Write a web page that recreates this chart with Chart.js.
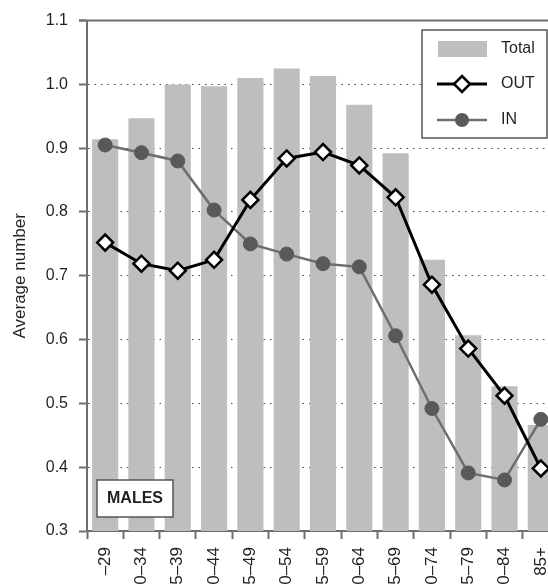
<!DOCTYPE html>
<html>
<head>
<meta charset="utf-8">
<script src="https://cdn.jsdelivr.net/npm/chart.js@4"></script>
<style>
  html, body { margin: 0; padding: 0; background: #fff; overflow: hidden; }
  #wrap { width: 548px; height: 585px; overflow: hidden; }
  canvas { display: block; }
</style>
</head>
<body>
<div id="wrap"><canvas id="plot" width="575" height="585"></canvas></div>
<script>
const ageGroups = ['–29', '30–34', '35–39', '40–44', '45–49', '50–54', '55–59', '60–64', '65–69', '70–74', '75–79', '80–84', '85+'];
const totalValues = [0.914, 0.947, 1.0, 0.997, 1.01, 1.025, 1.013, 0.968, 0.892, 0.725, 0.607, 0.527, 0.466];
const outValues = [0.752, 0.719, 0.708, 0.725, 0.819, 0.884, 0.894, 0.873, 0.823, 0.686, 0.586, 0.512, 0.398];
const inValues = [0.905, 0.893, 0.880, 0.803, 0.750, 0.734, 0.719, 0.714, 0.606, 0.492, 0.391, 0.380, 0.475];

const FONT = "'Liberation Sans', Arial, sans-serif";
const axisGray = '#6d6e71';
const barGray = '#bcbec0';
const inGray = '#6d6e71';
const inDot = '#58595b';
const textColor = '#231f20';

function drawDiamond(ctx, x, y, r) {
  ctx.beginPath();
  ctx.moveTo(x, y - r);
  ctx.lineTo(x + r, y);
  ctx.lineTo(x, y + r);
  ctx.lineTo(x - r, y);
  ctx.closePath();
  ctx.fillStyle = '#fff';
  ctx.fill();
  ctx.lineWidth = 2.5;
  ctx.strokeStyle = '#000';
  ctx.stroke();
}

// solid top frame line at 1.1
const topLine = {
  id: 'topLine',
  beforeDatasetsDraw(chart) {
    const ctx = chart.ctx;
    const y = chart.scales.y.getPixelForValue(1.1);
    ctx.save();
    ctx.strokeStyle = axisGray;
    ctx.lineWidth = 2;
    ctx.beginPath();
    ctx.moveTo(chart.chartArea.left - 8, y);
    ctx.lineTo(chart.width, y);
    ctx.stroke();
    ctx.restore();
  }
};

// boxed legend + MALES label
const boxes = {
  id: 'boxes',
  afterDraw(chart) {
    const ctx = chart.ctx;
    ctx.save();
    // legend box
    ctx.fillStyle = '#fff';
    ctx.fillRect(422, 30, 125, 108);
    ctx.strokeStyle = '#555';
    ctx.lineWidth = 1.5;
    ctx.strokeRect(422, 30, 125, 108);

    ctx.fillStyle = barGray;
    ctx.fillRect(438, 41, 49, 16);

    ctx.strokeStyle = '#000';
    ctx.lineWidth = 3;
    ctx.beginPath();
    ctx.moveTo(437, 84);
    ctx.lineTo(487, 84);
    ctx.stroke();
    drawDiamond(ctx, 462, 84, 8);

    ctx.strokeStyle = inGray;
    ctx.lineWidth = 2.5;
    ctx.beginPath();
    ctx.moveTo(437, 120);
    ctx.lineTo(487, 120);
    ctx.stroke();
    ctx.fillStyle = inDot;
    ctx.beginPath();
    ctx.arc(462, 120, 7, 0, Math.PI * 2);
    ctx.fill();

    ctx.fillStyle = textColor;
    ctx.font = '16px ' + FONT;
    ctx.textAlign = 'left';
    ctx.textBaseline = 'middle';
    ctx.fillText('Total', 501, 49);
    ctx.fillText('OUT', 501, 84);
    ctx.fillText('IN', 501, 120);

    // MALES box
    ctx.fillStyle = '#fff';
    ctx.fillRect(97, 480, 76, 37);
    ctx.strokeStyle = '#555';
    ctx.lineWidth = 1.5;
    ctx.strokeRect(97, 480, 76, 37);
    ctx.fillStyle = textColor;
    ctx.font = 'bold 16px ' + FONT;
    ctx.textAlign = 'center';
    ctx.fillText('MALES', 135, 499);
    ctx.restore();
  }
};

const data = {
  labels: ageGroups,
  datasets: [
    {
      type: 'line',
      label: 'OUT',
      data: outValues,
      borderColor: '#000',
      borderWidth: 3,
      pointStyle: 'rectRot',
      pointRadius: 8,
      pointBackgroundColor: '#fff',
      pointBorderColor: '#000',
      pointBorderWidth: 2.5,
      tension: 0,
      order: 1
    },
    {
      type: 'line',
      label: 'IN',
      data: inValues,
      borderColor: inGray,
      borderWidth: 2.5,
      pointStyle: 'circle',
      pointRadius: 7,
      pointBackgroundColor: inDot,
      pointBorderColor: inDot,
      pointBorderWidth: 1,
      tension: 0,
      order: 2
    },
    {
      type: 'bar',
      label: 'Total',
      data: totalValues,
      backgroundColor: barGray,
      categoryPercentage: 1,
      barPercentage: 0.72,
      order: 3
    }
  ]
};

const config = {
  type: 'bar',
  data: data,
  options: {
    responsive: false,
    animation: false,
    layout: { padding: { top: 20, right: 16, left: 0, bottom: 0 } },
    plugins: {
      legend: { display: false },
      tooltip: { enabled: false }
    },
    scales: {
      x: {
        afterFit(scale) { scale.height = 54; },
        grid: {
          drawOnChartArea: false,
          drawTicks: true,
          tickLength: 8,
          tickColor: axisGray,
          tickWidth: 2
        },
        border: { color: axisGray, width: 2 },
        ticks: {
          autoSkip: false,
          minRotation: 90,
          maxRotation: 90,
          padding: 8,
          color: textColor,
          font: { family: FONT, size: 17 }
        }
      },
      y: {
        min: 0.3,
        max: 1.1,
        afterFit(scale) { scale.width = 87; },
        grid: {
          color: '#444',
          lineWidth: 1,
          tickBorderDash: [],
          tickColor: axisGray,
          tickWidth: 2,
          tickLength: 8
        },
        border: { color: axisGray, width: 2, dash: [1.5, 5] },
        title: {
          display: true,
          text: 'Average number',
          color: textColor,
          padding: { top: 10, bottom: 0 },
          font: { family: FONT, size: 17 }
        },
        ticks: {
          stepSize: 0.1,
          padding: 11,
          color: textColor,
          font: { family: FONT, size: 16 },
          callback: v => v.toFixed(1)
        }
      }
    }
  },
  plugins: [topLine, boxes]
};

const myChart = new Chart(document.getElementById('plot'), config);
</script>
</body>
</html>
